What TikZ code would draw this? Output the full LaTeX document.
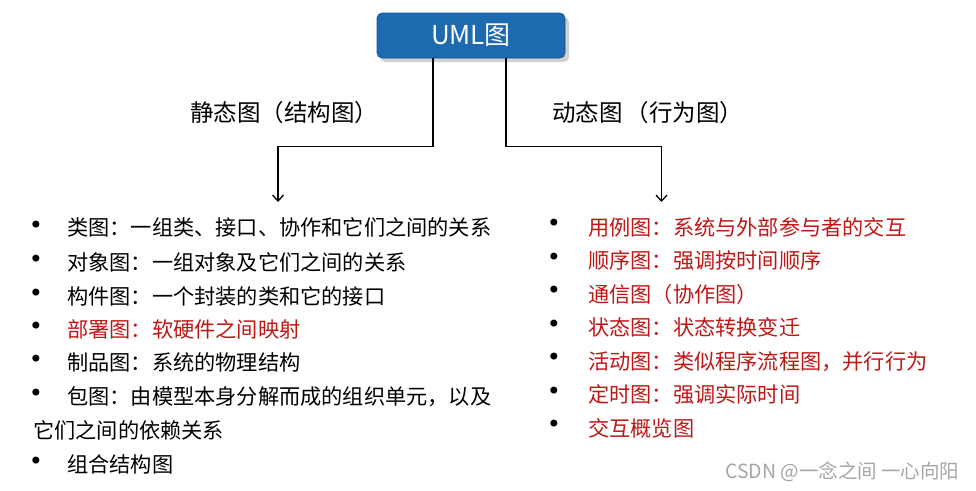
\documentclass[tikz,border=0pt]{standalone}
\usepackage{fontspec}
\setmainfont{Noto Sans CJK SC}
\newfontfamily\cjk{Noto Sans CJK SC}
\newfontfamily\dejavu{DejaVu Sans}
\usetikzlibrary{arrows.meta,calc}
\definecolor{umlblue}{RGB}{30,106,176}
\definecolor{umlred}{RGB}{192,22,22}
\definecolor{wmgray}{RGB}{165,165,165}
\begin{document}
\begin{tikzpicture}[x=1pt,y=-1pt,
  rootbox/.style={rectangle,rounded corners=5pt,fill=umlblue,draw=umlblue!80!black,line width=0.6pt,
    minimum width=188pt,minimum height=45pt,text=white,font=\cjk\fontsize{26}{30}\selectfont,inner sep=0pt},
  conn/.style={line width=1.3pt,-{Straight Barb[length=6pt,width=11pt,line width=1.3pt]}},
  head/.style={anchor=base west,inner sep=0pt,font=\cjk\fontsize{23.5}{28}\selectfont},
  item/.style={anchor=base west,inner sep=0pt,font=\cjk\fontsize{21.2}{26}\selectfont},
  bul/.style={anchor=center,inner sep=0pt,font=\dejavu\fontsize{24}{28}\selectfont},
  hot/.style={text=umlred}]
\useasboundingbox (0,0) rectangle (976,490);
% shadow + root
\fill[black!18,rounded corners=5pt] (380,17) rectangle (569,62);
\node[rootbox] (uml) at (471,35.5) {UML图};
% branch labels
\node[head] (static) at (190,121) {静态图（结构图）};
\node[head] (dynamic) at (552,121) {动态图\hspace{3pt}（行为图）};
% connectors
\coordinate (ltip) at (278,202);
\coordinate (rtip) at (661.5,202);
\draw[conn] ([xshift=-38pt]uml.south) -- ++(0,88) -| (ltip);
\draw[conn] ([xshift=35pt]uml.south) -- ++(0,88) -| (rtip);
% left list
\foreach \i/\y in {1/227.5,2/261.5,3/295.5,4/328.5,5/361.5,6/395.5,8/463.5}{
  \node[bul] (lb\i) at (36,\y) {•};
}
\node[item] (l1) at (67,235) {类图：一组类、接口、协作和它们之间的关系};
\node[item] (l2) at (67,270) {对象图：一组对象及它们之间的关系};
\node[item] (l3) at (67,304) {构件图：一个封装的类和它的接口};
\node[item,hot] (l4) at (67,337) {部署图：软硬件之间映射};
\node[item] (l5) at (67,370) {制品图：系统的物理结构};
\node[item] (l6) at (67,404) {包图：由模型本身分解而成的组织单元，以及};
\node[item] (l7) at (33,438) {它们之间的依赖关系};
\node[item] (l8) at (67,472) {组合结构图};
% right list
\foreach \i/\y in {1/225.5,2/259.5,3/292.5,4/326.5,5/359.5,6/393.5,7/426.5}{
  \node[bul] (rb\i) at (554,\y) {•};
}
\node[item,hot] (r1) at (588,235) {用例图：系统与外部参与者的交互};
\node[item,hot] (r2) at (588,268) {顺序图：强调按时间顺序};
\node[item,hot] (r3) at (588,302) {通信图（协作图）};
\node[item,hot] (r4) at (588,335) {状态图：状态转换变迁};
\node[item,hot] (r5) at (588,369) {活动图：类似程序流程图，并行行为};
\node[item,hot] (r6) at (588,402) {定时图：强调实际时间};
\node[item,hot] (r7) at (588,436) {交互概览图};
% watermark
\node[anchor=base west,inner sep=0pt,text=wmgray,font=\cjk\fontsize{19.5}{22}\selectfont] (wm) at (725,478) {CSDN @一念之间 一心向阳};
\end{tikzpicture}
\end{document}
